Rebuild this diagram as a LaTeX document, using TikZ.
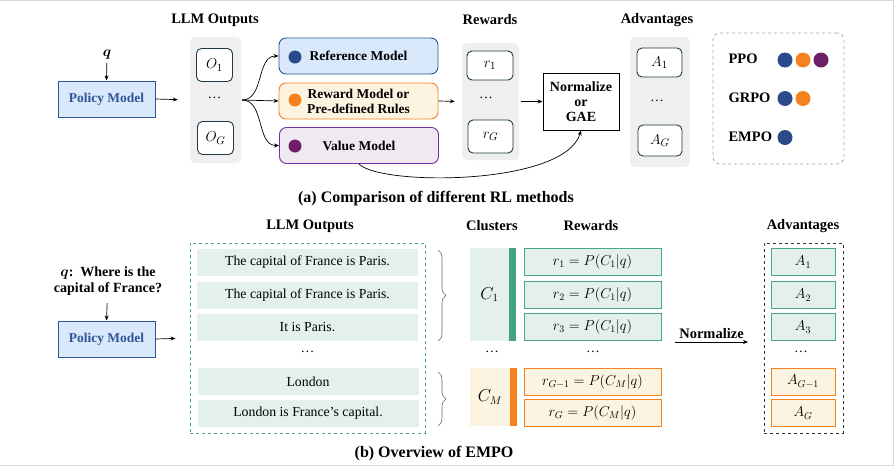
\documentclass[tikz,border=0pt]{standalone}
\usepackage{amsmath}
\usepackage{fontspec}
\setmainfont{Liberation Serif}
\usetikzlibrary{arrows.meta,positioning,calc,decorations.pathreplacing}

\definecolor{polblue}{HTML}{2F5597}
\definecolor{polfill}{HTML}{DAE8FC}
\definecolor{dotblue}{HTML}{2B4A8A}
\definecolor{dotorange}{HTML}{F5821F}
\definecolor{dotpurple}{HTML}{6F1F6A}
\definecolor{rwdfill}{HTML}{FDF3E1}
\definecolor{valfill}{HTML}{F1E9F1}
\definecolor{valline}{HTML}{7030A0}
\definecolor{panelgray}{HTML}{EFEFEF}
\definecolor{slate}{HTML}{1E3A46}
\definecolor{grnfill}{HTML}{E3F1EA}
\definecolor{grnline}{HTML}{4AA889}
\definecolor{grnbar}{HTML}{45A381}

\begin{document}
\begin{tikzpicture}[
    x=1pt, y=-1pt,
    every node/.style={font=\fontsize{13.8}{16}\selectfont},
    title/.style={font=\bfseries\fontsize{14.5}{17}\selectfont},
    caption/.style={font=\bfseries\fontsize{16}{18}\selectfont},
    arr/.style={-{Stealth[length=5pt,width=4pt]}, line width=0.7pt},
    policybox/.style={
        draw=polblue,
        fill=polfill,
        line width=1pt,
        minimum width=97pt,
        minimum height=36pt,
        text=polblue,
        font=\bfseries\fontsize{13.5}{16}\selectfont
    },
    panel/.style={
        fill=panelgray,
        rounded corners=5pt,
        inner sep=0pt
    },
    smallbox/.style={
        draw=slate,
        fill=white,
        rounded corners=5pt,
        line width=0.9pt,
        minimum width=36pt,
        minimum height=33pt,
        font=\fontsize{15}{17}\selectfont
    },
    modelbox/.style={
        rounded corners=7pt,
        line width=0.9pt,
        minimum width=159pt,
        minimum height=36pt,
        align=center,
        font=\bfseries\fontsize{13.5}{15}\selectfont
    },
    dotnode/.style={circle, inner sep=0pt, minimum size=13pt},
    outrow/.style={fill=grnfill, minimum width=221pt, minimum height=27pt, inner sep=0pt},
    grnrow/.style={draw=grnline, fill=grnfill, line width=0.9pt, minimum height=27pt, inner sep=0pt},
    orgrow/.style={draw=dotorange, fill=rwdfill, line width=0.9pt, minimum height=27pt, inner sep=0pt},
    bracestyle/.style={draw=gray!80!black, line width=0.6pt,
        decorate, decoration={brace, amplitude=8pt}}
]
    \useasboundingbox (0,0) rectangle (895,467);
    \draw[gray!30, line width=1pt] (0,0.5) -- (893.5,0.5) -- (893.5,465.5) -- (0,465.5);

    % --- (a) COMPARISON ---
    \node[title] (ttout) at (215,20) {LLM Outputs};
    \node[title] (ttrwd) at (490,20) {Rewards};
    \node[title] (ttadv) at (657,20) {Advantages};

    \node[font=\fontsize{15}{17}\selectfont] (qa) at (107,55) {$\boldsymbol{q}$};
    \node[policybox] (pola) at (106.5,99) {Policy Model};
    \draw[arr] (qa) -- (pola.north);

    \node[panel, minimum width=51pt, minimum height=126pt] (outpanel) at (215.5,100) {};
    \node[smallbox] (o1) at (214.5,65) {$O_1$};
    \node (odots) at (214.5,98) {\dots};
    \node[smallbox] (oG) at (215.5,138) {$O_G$};
    \draw[arr, shorten >=12pt] (pola.east) -- (outpanel.west);

    \node[modelbox, draw=polblue, fill=polfill] (refm) at (358.5,56) {Reference Model};
    \node[modelbox, draw=dotorange, fill=rwdfill] (rwdm) at (358.5,101) {Reward Model or\\Pre-defined Rules};
    \node[modelbox, draw=valline, fill=valfill] (valm) at (359,145.5) {Value Model};
    \node[dotnode, fill=dotblue] (dref) at (295,57) {};
    \node[dotnode, fill=dotorange] (drwd) at (295,100) {};
    \node[dotnode, fill=dotpurple] (dval) at (295,146) {};

    \coordinate (split) at (242,100);
    \draw[arr] (split) to[out=0, in=180] (refm.west);
    \draw[arr] (split) -- (rwdm.west);
    \draw[arr] (split) to[out=0, in=180] (valm.west);

    \node[panel, minimum width=57pt, minimum height=117pt] (rwpanel) at (490.5,101.5) {};
    \node[smallbox, minimum width=46pt, minimum height=29pt] (r1) at (490,65.5) {$r_1$};
    \node (rdots) at (486,98) {\dots};
    \node[smallbox, minimum width=45pt, minimum height=33pt] (rG) at (490.5,136.5) {$r_G$};
    \draw[arr, shorten >=7pt] (rwdm.east) -- (rwpanel.west);

    \node[draw, line width=0.9pt, minimum width=76pt, minimum height=57pt, align=center,
          inner sep=1pt, font=\bfseries\fontsize{14}{15}\selectfont] (norm) at (581,101.5)
          {Normalize\\or\\GAE};
    \draw[arr, shorten <=2pt] (rwpanel.east) -- (norm.west);
    \draw[arr] (valm.south) .. controls (380,186) and (565,186) .. (norm.south);

    \node[panel, minimum width=60pt, minimum height=130pt] (advpanel) at (660,102) {};
    \node[smallbox, minimum width=45pt, minimum height=29pt] (a1) at (659.5,62.5) {$A_1$};
    \node (adots) at (657,101) {\dots};
    \node[smallbox, minimum width=44pt, minimum height=31pt] (aG) at (660,140.5) {$A_G$};

    % --- LEGEND ---
    \node[draw=gray!70, dashed, rounded corners=7pt, line width=0.8pt,
          minimum width=131pt, minimum height=131pt] (legend) at (778.5,98.5) {};
    \node[title, anchor=west] (lppo) at (725,59) {PPO};
    \node[title, anchor=west] (lgrpo) at (725,98) {GRPO};
    \node[title, anchor=west] (lempo) at (725,137) {EMPO};
    \node[dotnode, minimum size=15pt, fill=dotblue] (p1) at (785,60) {};
    \node[dotnode, minimum size=15pt, fill=dotorange] (p2) at (803,60) {};
    \node[dotnode, minimum size=15pt, fill=dotpurple] (p3) at (821,60) {};
    \node[dotnode, minimum size=15pt, fill=dotblue] (g1) at (785,98.5) {};
    \node[dotnode, minimum size=15pt, fill=dotorange] (g2) at (803,98.5) {};
    \node[dotnode, minimum size=15pt, fill=dotblue] (e1) at (785,137.5) {};

    \node[caption] (capa) at (436,199) {(a) Comparison of different RL methods};

    % --- (b) EMPO OVERVIEW ---
    \node[title] (ttoutb) at (310,226) {LLM Outputs};
    \node[title] (ttclu) at (492,226) {Clusters};
    \node[title] (ttrwdb) at (591,226) {Rewards};
    \node[title] (ttadvb) at (803,226) {Advantages};

    \node[align=center, font=\bfseries\fontsize{14}{16.5}\selectfont] (qb) at (108,281)
        {$\boldsymbol{q}$:\ \ Where is the\\capital of France?};
    \node[policybox] (polb) at (106.5,339) {Policy Model};
    \draw[arr, shorten <=4pt] (qb) -- (polb.north);

    \node[draw=grnline, dashed, line width=0.8pt, minimum width=235pt, minimum height=190pt] (outframe) at (307.5,338) {};
    \node[outrow] (s1) at (307.5,262.5) {The capital of France is Paris.};
    \node[outrow] (s2) at (307.5,295) {The capital of France is Paris.};
    \node[outrow] (s3) at (307.5,327) {It is Paris.};
    \node (sdots) at (307.5,352) {\dots};
    \node[outrow] (s4) at (308,381.5) {London};
    \node[outrow] (s5) at (308,413) {London is France's capital.};
    \draw[arr, shorten >=14pt] (polb.east) -- (outframe.west);

    \draw[bracestyle] (438,250) -- (438,341);
    \draw[bracestyle] (438,372) -- (438,426);

    \node[fill=grnfill, minimum width=39pt, minimum height=93pt, font=\fontsize{16}{18}\selectfont] (c1) at (489.5,294.5) {$C_1$};
    \node[fill=grnbar, minimum width=7pt, minimum height=93pt, inner sep=0pt] (c1bar) at (512.5,294.5) {};
    \node (cdots) at (492,352) {\dots};
    \node[fill=rwdfill, minimum width=40pt, minimum height=58pt, font=\fontsize{16}{18}\selectfont] (cM) at (490,397) {$C_M$};
    \node[fill=dotorange, minimum width=7pt, minimum height=58pt, inner sep=0pt] (cMbar) at (513,397) {};

    \node[grnrow, minimum width=137pt] (rw1) at (592.5,262) {$r_1 = P(C_1|q)$};
    \node[grnrow, minimum width=137pt] (rw2) at (592.5,295) {$r_2 = P(C_1|q)$};
    \node[grnrow, minimum width=137pt] (rw3) at (592.5,327) {$r_3 = P(C_1|q)$};
    \node (rwdots) at (593,352) {\dots};
    \node[orgrow, minimum width=137pt] (rw4) at (592.5,381.5) {$r_{G-1} = P(C_M|q)$};
    \node[orgrow, minimum width=137pt] (rw5) at (592.5,413) {$r_G = P(C_M|q)$};

    \coordinate (nstart) at (675,342);
    \coordinate (nend) at (748,342);
    \draw[arr] (nstart) -- node[above=0pt, title] (normlbl) {Normalize} (nend);

    \node[draw=gray!40!black, dashed, line width=0.8pt, minimum width=79pt, minimum height=190pt] (advframe) at (803.5,338) {};
    \node[grnrow, minimum width=64pt] (ab1) at (803,262) {$A_1$};
    \node[grnrow, minimum width=64pt] (ab2) at (803,295) {$A_2$};
    \node[grnrow, minimum width=64pt] (ab3) at (803,327) {$A_3$};
    \node (abdots) at (801,352) {\dots};
    \node[orgrow, minimum width=64pt] (ab4) at (803,381.5) {$A_{G-1}$};
    \node[orgrow, minimum width=64pt] (ab5) at (803,413) {$A_G$};

    \node[caption] (capb) at (434,454) {(b) Overview of EMPO};
\end{tikzpicture}
\end{document}
